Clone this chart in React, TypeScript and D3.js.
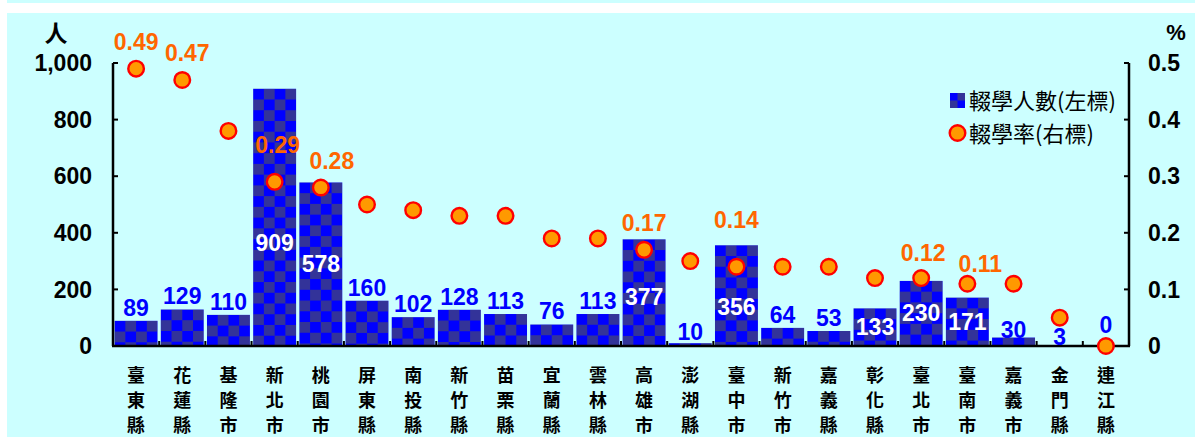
import * as d3 from 'd3';

const counties = [
  '臺東縣', '花蓮縣', '基隆市', '新北市', '桃園市', '屏東縣', '南投縣', '新竹縣', '苗栗縣', '宜蘭縣', '雲林縣',
  '高雄市', '澎湖縣', '臺中市', '新竹市', '嘉義縣', '彰化縣', '臺北市', '臺南市', '嘉義市', '金門縣', '連江縣',
];
const dropouts = [89, 129, 110, 909, 578, 160, 102, 128, 113, 76, 113, 377, 10, 356, 64, 53, 133, 230, 171, 30, 3, 0];
const rates = [0.49, 0.47, 0.38, 0.29, 0.28, 0.25, 0.24, 0.23, 0.23, 0.19, 0.19, 0.17, 0.15, 0.14, 0.14, 0.14, 0.12, 0.12, 0.11, 0.11, 0.05, 0];
const leftTicks = [0, 200, 400, 600, 800, 1000];
const rightTicks = [0, 0.1, 0.2, 0.3, 0.4, 0.5];
const ratesLabelled = ['臺東縣', '花蓮縣', '新北市', '桃園市', '高雄市', '臺中市', '臺北市', '臺南市'];
const countsInside = ['新北市', '桃園市', '高雄市', '臺中市', '彰化縣', '臺北市', '臺南市'];

const W = 1195;
const H = 437;
const plot = { left: 113, right: 1129, top: 63, bottom: 346 };

const BLUE = '#0000ff';
const DARK = '#333399';
const ORANGE = '#ff6600';
const num = '"Liberation Sans", Arial, sans-serif';
const cjk = '"Noto Sans CJK TC", "Noto Sans CJK SC", sans-serif';

// hand nudges for labels that were dragged around in the original
const countNudge: Record<string, number> = { 新北市: 26, 臺中市: 11, 高雄市: 4, 澎湖縣: 2, 嘉義市: 5, 金門縣: 5, 連江縣: -8 };
const rateNudge: Record<string, [number, number]> = {
  花蓮縣: [5, 0], 新北市: [3, -10], 桃園市: [11, 0], 臺中市: [0, -20], 臺北市: [2, 2], 臺南市: [13, 7],
};

export default function App() {
  const x = d3.scaleBand<string>().domain(counties).range([plot.left, plot.right]).paddingInner(0.07).paddingOuter(0.035);
  const yL = d3.scaleLinear().domain([0, 1000]).range([plot.bottom, plot.top]);
  const yR = d3.scaleLinear().domain([0, 0.5]).range([plot.bottom, plot.top]);
  const bw = x.bandwidth();
  const cell = bw / 4;
  const fmt = d3.format(',');

  const bars = counties.map((c, i) => ({ c, i, v: dropouts[i], r: rates[i], x0: x(c) ?? 0, cx: (x(c) ?? 0) + bw / 2 }));

  return (
    <svg width={W} height={H} style={{ position: 'absolute', left: 0, top: 0 }}>
      <defs>
        {bars.map((b) => (
          <pattern key={b.c} id={`chk${b.i}`} patternUnits="userSpaceOnUse" x={b.x0} y={yL(b.v)} width={cell * 2} height={cell * 2}>
            <rect width={cell * 2} height={cell * 2} fill={BLUE} />
            <rect x={cell} width={cell} height={cell} fill={DARK} />
            <rect y={cell} width={cell} height={cell} fill={DARK} />
          </pattern>
        ))}
        <pattern id="chkLegend" patternUnits="userSpaceOnUse" x={950} y={93} width={15} height={15}>
          <rect width={15} height={15} fill={BLUE} />
          <rect x={7.5} width={7.5} height={7.5} fill={DARK} />
          <rect y={7.5} width={7.5} height={7.5} fill={DARK} />
        </pattern>
      </defs>

      <rect width={W} height={H} fill="#ffffff" />
      <rect x={7} y={0} width={W - 7} height={3} fill="#ccffff" />
      <rect x={7} y={13} width={W - 7} height={H - 13} fill="#ccffff" />

      {/* bars */}
      {bars.map((b) => (
        <rect key={b.c} x={b.x0} y={yL(b.v)} width={bw} height={plot.bottom - yL(b.v)} fill={`url(#chk${b.i})`} />
      ))}

      {/* axes */}
      <g stroke="#000" fill="none">
        <line x1={plot.left} x2={plot.left} y1={plot.top} y2={plot.bottom} strokeWidth={2.5} />
        <line x1={plot.right} x2={plot.right} y1={plot.top} y2={plot.bottom} strokeWidth={2.5} />
        {leftTicks.map((t) => (
          <line key={t} x1={plot.left} x2={plot.left + 5} y1={yL(t)} y2={yL(t)} strokeWidth={2} />
        ))}
        {rightTicks.map((t) => (
          <line key={t} x1={plot.right} x2={plot.right - 5} y1={yR(t)} y2={yR(t)} strokeWidth={2} />
        ))}
        {counties.slice(1).map((c) => {
          const bx = (x(c) ?? 0) - (x.step() * x.paddingInner()) / 2;
          return <line key={c} x1={bx} x2={bx} y1={plot.bottom} y2={plot.bottom - 5} strokeWidth={2} />;
        })}
        <line x1={plot.left - 1} x2={plot.right + 1} y1={plot.bottom} y2={plot.bottom} strokeWidth={2.5} />
      </g>

      <g fontFamily={num} fontWeight="bold" fontSize={23} fill="#000">
        {leftTicks.map((t) => (
          <text key={t} x={92} y={yL(t)} dy="0.36em" textAnchor="end">{fmt(t)}</text>
        ))}
        {rightTicks.map((t) => (
          <text key={t} x={1148} y={yR(t)} dy="0.36em">{t === 0 ? '0' : d3.format('.1f')(t)}</text>
        ))}
        <text x={1176} y={40} textAnchor="middle" fontSize={22}>%</text>
      </g>
      <text x={56} y={42} textAnchor="middle" fontFamily={cjk} fontWeight="bold" fontSize={23}>人</text>

      {/* category labels, one character per line */}
      <g fontFamily={cjk} fontWeight="bold" fontSize={18} textAnchor="middle" fill="#000">
        {bars.map((b) => (
          <text key={b.c} x={b.cx}>
            {b.c.split('').map((ch, k) => (
              <tspan key={k} x={b.cx} y={382 + k * 25}>{ch}</tspan>
            ))}
          </text>
        ))}
      </g>

      {/* count labels */}
      <g fontFamily={num} fontWeight="bold" fontSize={23} textAnchor="middle">
        {bars.map((b) => {
          const inside = countsInside.includes(b.c);
          const nudge = countNudge[b.c] ?? 0;
          const y = inside ? (yL(b.v) + plot.bottom) / 2 + 8 + nudge : yL(b.v) - 5 + nudge;
          return (
            <text key={b.c} x={b.cx} y={y} fill={inside ? '#ffffff' : BLUE}>{b.v}</text>
          );
        })}
      </g>

      {/* rate markers */}
      {bars.map((b) => (
        <circle key={b.c} cx={b.cx} cy={yR(b.r)} r={7.8} fill="#ff9900" stroke="#ff0000" strokeWidth={2.4} />
      ))}
      <g fontFamily={num} fontWeight="bold" fontSize={23} textAnchor="middle" fill={ORANGE}>
        {bars
          .filter((b) => ratesLabelled.includes(b.c))
          .map((b) => {
            const [dx, dy] = rateNudge[b.c] ?? [0, 0];
            return (
              <text key={b.c} x={b.cx + dx} y={yR(b.r) - 19 + dy}>{d3.format('.2f')(b.r)}</text>
            );
          })}
      </g>

      {/* legend */}
      <rect x={950} y={93} width={15} height={15} fill="url(#chkLegend)" />
      <text x={969} y={109} fontFamily={cjk} fontSize={22} fill="#000">輟學人數(左標)</text>
      <circle cx={957.5} cy={133} r={7.8} fill="#ff9900" stroke="#ff0000" strokeWidth={2.4} />
      <text x={969} y={142} fontFamily={cjk} fontSize={22} fill="#000">輟學率(右標)</text>
    </svg>
  );
}
